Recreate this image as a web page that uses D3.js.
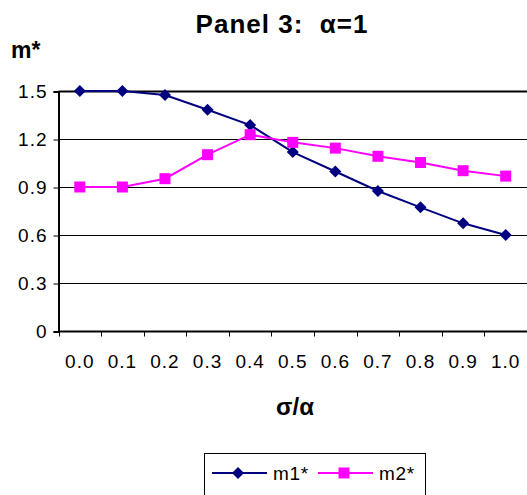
<!DOCTYPE html>
<html><head><meta charset="utf-8">
<script src="https://cdn.jsdelivr.net/npm/d3@7"></script>
<style>body{margin:0;background:#fff}svg{display:block;font-family:Arial,"Liberation Sans",sans-serif}</style>
</head><body><svg id="c" width="527" height="495"></svg>
<script>
const categories = ["0.0","0.1","0.2","0.3","0.4","0.5","0.6","0.7","0.8","0.9","1.0"];
const m1 = [1.5, 1.5, 1.475, 1.383, 1.287, 1.118, 0.997, 0.875, 0.773, 0.673, 0.6];
const m2 = [0.9, 0.9, 0.952, 1.102, 1.227, 1.179, 1.143, 1.092, 1.053, 1.002, 0.968];
const yTicks = [0, 0.3, 0.6, 0.9, 1.2, 1.5];
const seriesNames = ["m1*", "m2*"];

const svg = d3.select("#c");
const x = d3.scaleBand().domain(categories).range([58.5, 527]).padding(0);
const y = d3.scaleLinear().domain([0, 1.5]).range([331, 91]);

// gridlines
svg.append("g").selectAll("line").data(yTicks.filter(d => d > 0)).join("line")
  .attr("x1", 58.5).attr("x2", 527).attr("y1", d => y(d) + 0.5).attr("y2", d => y(d) + 0.5)
  .attr("stroke", "#000").attr("stroke-width", d => d === 1.5 ? 2 : 1);

// y axis
const ya = svg.append("g").attr("transform", "translate(58.5,0.5)")
  .call(d3.axisLeft(y).tickValues(yTicks).tickFormat(d => d === 0 ? "0" : d3.format(".1f")(d)).tickSize(5).tickPadding(6));
ya.select(".domain").attr("stroke-width", 2);
ya.selectAll("text").attr("font-size", 19).attr("fill", "#000").attr("font-family", "Arial, Liberation Sans").attr("letter-spacing", 1);

// x axis
const xa = svg.append("g").attr("transform", "translate(0,331.5)");
xa.append("line").attr("x1", 58.5).attr("x2", 527).attr("stroke", "#000").attr("stroke-width", 2);
xa.selectAll("line.t").data(categories).join("line").attr("class", "t")
  .attr("x1", d => Math.round(x(d)) + 0.5).attr("x2", d => Math.round(x(d)) + 0.5).attr("y1", 0).attr("y2", 5).attr("stroke", "#000");
xa.selectAll("text").data(categories).join("text")
  .attr("x", d => x(d) + x.bandwidth() / 2).attr("y", 36).attr("text-anchor", "middle")
  .attr("font-size", 19).attr("letter-spacing", 1).text(d => d);

// lines
const line = d3.line().x((d, i) => x(categories[i]) + x.bandwidth() / 2).y(d => y(d));
svg.append("path").datum(m1).attr("d", line).attr("fill", "none").attr("stroke", "#000080").attr("stroke-width", 2);
svg.append("path").datum(m2).attr("d", line).attr("fill", "none").attr("stroke", "#FF00FF").attr("stroke-width", 2);

const diamond = (cx, cy, r) => `M${cx},${cy - r}L${cx + r},${cy}L${cx},${cy + r}L${cx - r},${cy}Z`;
svg.append("g").selectAll("path").data(m1).join("path")
  .attr("d", (d, i) => diamond(x(categories[i]) + x.bandwidth() / 2, y(d), 6)).attr("fill", "#000080");
svg.append("g").selectAll("rect").data(m2).join("rect")
  .attr("x", (d, i) => x(categories[i]) + x.bandwidth() / 2 - 5.5).attr("y", d => y(d) - 5.5)
  .attr("width", 11).attr("height", 11).attr("fill", "#FF00FF");

// titles
svg.append("text").attr("x", 282).attr("y", 33).attr("text-anchor", "middle")
  .attr("font-size", 26).attr("font-weight", "bold").attr("letter-spacing", 1).style("white-space", "pre").text("Panel 3:  α=1");
svg.append("text").attr("x", 11).attr("y", 58).attr("font-size", 23).attr("font-weight", "bold").text("m*");
svg.append("text").attr("x", 295).attr("y", 415).attr("text-anchor", "middle")
  .attr("font-size", 24).attr("font-weight", "bold").text("σ/α");

// legend
const lg = svg.append("g");
lg.append("rect").attr("x", 204.5).attr("y", 453.5).attr("width", 221).attr("height", 60).attr("fill", "#fff").attr("stroke", "#000");
const legItems = [{name: seriesNames[0], color: "#000080", type: "d", x0: 212}, {name: seriesNames[1], color: "#FF00FF", type: "s", x0: 318}];
legItems.forEach(it => {
  lg.append("line").attr("x1", it.x0).attr("x2", it.x0 + 55).attr("y1", 473).attr("y2", 473).attr("stroke", it.color).attr("stroke-width", 2);
  if (it.type === "d") lg.append("path").attr("d", diamond(it.x0 + 26, 473, 6)).attr("fill", it.color);
  else lg.append("rect").attr("x", it.x0 + 26 - 5.5).attr("y", 473 - 5.5).attr("width", 11).attr("height", 11).attr("fill", it.color);
  lg.append("text").attr("x", it.x0 + 61).attr("y", 480).attr("font-size", 19).attr("letter-spacing", 0.7).text(it.name);
});
</script></body></html>
